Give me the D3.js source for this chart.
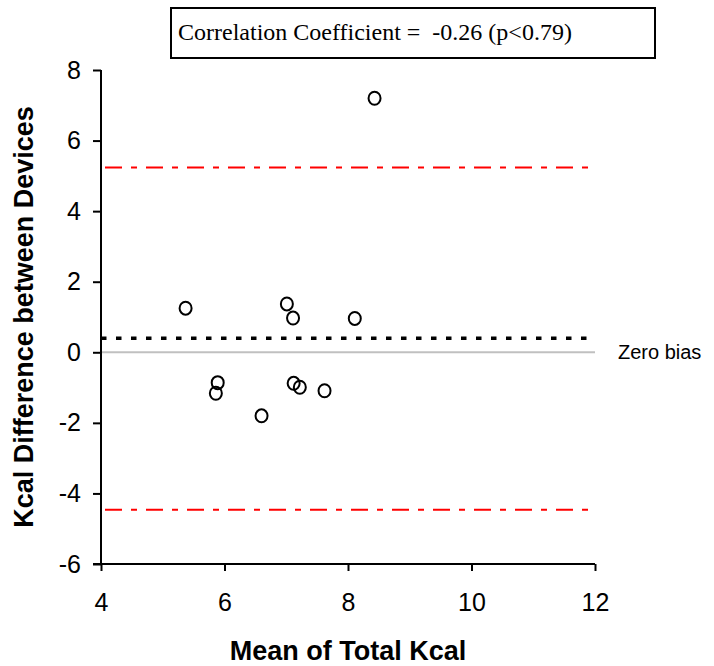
<!DOCTYPE html>
<html>
<head>
<meta charset="utf-8">
<script src="https://cdn.jsdelivr.net/npm/d3@7"></script>
<style>
  html, body { margin: 0; padding: 0; background: #fff; }
  svg { display: block; }
</style>
</head>
<body>
<svg id="chart" width="714" height="666"></svg>
<script>
// Mean of the two devices (x) and their difference (y), one entry per subject
const meanKcal = [5.37, 7.01, 7.11, 8.11, 5.89, 5.86, 6.60, 7.12, 7.22, 7.62, 8.43];
const diffKcal = [1.25, 1.37, 0.97, 0.96, -0.86, -1.16, -1.80, -0.88, -0.99, -1.09, 7.20];

// Reference lines: bias and limits of agreement
const bias = 0.40;
const upperLimit = 5.24;
const lowerLimit = -4.46;

const xTicks = [4, 6, 8, 10, 12];
const yTicks = [-6, -4, -2, 0, 2, 4, 6, 8];

const corrText = "Correlation Coefficient =  -0.26 (p<0.79)";
const zeroText = "Zero bias";
const xTitle = "Mean of Total Kcal";
const yTitle = "Kcal Difference between Devices";

const sans = "Liberation Sans, Arial, sans-serif";
const svg = d3.select("#chart");
const plotLeft = 101, plotRight = 595, plotTop = 70, plotBottom = 564;

const x = d3.scaleLinear().domain([4, 12]).range([plotLeft, plotRight]);
const y = d3.scaleLinear().domain([-6, 8]).range([plotBottom, plotTop]);

// zero line
svg.append("line")
  .attr("x1", x(4)).attr("x2", x(12))
  .attr("y1", y(0)).attr("y2", y(0))
  .attr("stroke", "#c0c0c0").attr("stroke-width", 2);

// limits of agreement
[upperLimit, lowerLimit].forEach(v => {
  svg.append("line")
    .attr("x1", x(4) + 4).attr("x2", x(12))
    .attr("y1", y(v)).attr("y2", y(v))
    .attr("stroke", "#ff0000").attr("stroke-width", 2)
    .attr("stroke-dasharray", "17 9 6 9");
});

// mean bias
svg.append("line")
  .attr("x1", x(4)).attr("x2", x(12) - 6)
  .attr("y1", y(bias)).attr("y2", y(bias))
  .attr("stroke", "#000").attr("stroke-width", 3.5)
  .attr("stroke-dasharray", "5.5 9.5");

// axes (plain hyphen for negatives)
const fmt = d => String(d);
const xAxis = d3.axisBottom(x).tickValues(xTicks).tickSize(7).tickPadding(22).tickFormat(fmt);
const yAxis = d3.axisLeft(y).tickValues(yTicks).tickSize(8).tickPadding(12).tickFormat(fmt);

const gx = svg.append("g").attr("transform", `translate(0,${plotBottom})`).call(xAxis);
const gy = svg.append("g").attr("transform", `translate(${plotLeft},0)`).call(yAxis);

[gx, gy].forEach(g => {
  g.select(".domain").attr("stroke", "#000").attr("stroke-width", 2);
  g.selectAll(".tick line").attr("stroke", "#000").attr("stroke-width", 2);
  g.selectAll(".tick text")
    .attr("font-family", sans)
    .attr("font-size", 25).attr("fill", "#000");
});
gx.select(".domain").attr("d", `M${plotLeft - 8},0H${plotRight}`);
gy.select(".domain").attr("d", `M0,${plotTop}V${plotBottom}`);

// points
svg.append("g").selectAll("ellipse")
  .data(meanKcal.map((m, i) => [m, diffKcal[i]]))
  .join("ellipse")
  .attr("cx", d => x(d[0])).attr("cy", d => y(d[1]))
  .attr("rx", 6).attr("ry", 6.5)
  .attr("fill", "none").attr("stroke", "#000").attr("stroke-width", 2);

// zero bias label
svg.append("text")
  .attr("x", 618).attr("y", y(0) + 7)
  .attr("font-family", sans)
  .attr("font-size", 20).text(zeroText);

// correlation box
svg.append("rect")
  .attr("x", 171).attr("y", 8).attr("width", 484).attr("height", 50)
  .attr("fill", "#fff").attr("stroke", "#000").attr("stroke-width", 2);
svg.append("text")
  .attr("x", 178).attr("y", 40)
  .attr("xml:space", "preserve")
  .style("white-space", "pre")
  .attr("font-family", "Liberation Serif, Times New Roman, serif")
  .attr("font-size", 24).text(corrText);

// axis titles
svg.append("text")
  .attr("x", (plotLeft + plotRight) / 2).attr("y", 660)
  .attr("text-anchor", "middle")
  .attr("font-family", sans)
  .attr("font-weight", "bold").attr("font-size", 27).text(xTitle);

svg.append("text")
  .attr("transform", `translate(33,${(plotTop + plotBottom) / 2}) rotate(-90)`)
  .attr("text-anchor", "middle")
  .attr("font-family", sans)
  .attr("font-weight", "bold").attr("font-size", 27).text(yTitle);
</script>
</body>
</html>
